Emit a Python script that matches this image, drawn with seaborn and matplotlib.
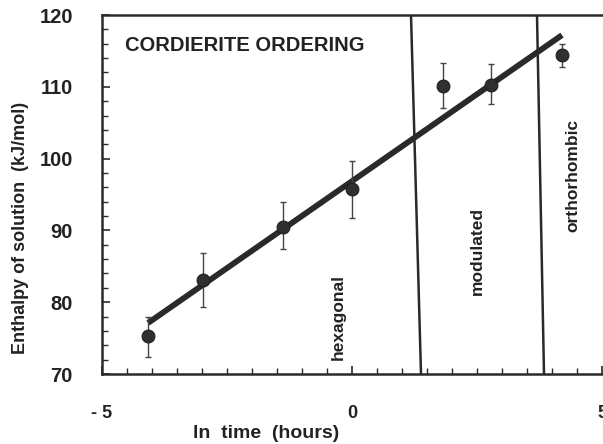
import matplotlib
matplotlib.use("Agg")
import matplotlib.pyplot as plt
from matplotlib.ticker import MultipleLocator
import seaborn as sns
import pandas as pd
import numpy as np

sns.set_theme(style="ticks")
plt.rcParams['font.family'] = ['Liberation Sans', 'DejaVu Sans']

# data
ln_time = [-4.08, -2.98, -1.38, 0.0, 1.82, 2.78, 4.20]
enthalpy = [75.3, 83.1, 90.5, 95.8, 110.1, 110.25, 114.4]
err_low = [72.4, 79.3, 87.4, 91.7, 107.0, 107.6, 112.8]
err_high = [77.9, 86.85, 94.0, 99.7, 113.3, 113.2, 116.0]

fit_x = [-4.08, 4.20]
fit_y = [77.1, 117.2]

boundary1_x = [1.18, 1.38]
boundary2_x = [3.70, 3.84]
boundary_y = [120, 70]

region_labels = ["hexagonal", "modulated", "orthorhombic"]
region_x = [-0.28, 2.5, 4.42]
region_y = [78.0, 87.1, 97.6]

title_text = "CORDIERITE ORDERING"
xticks = [-5, 0, 5]
xticklabels = ["- 5", "0", "5"]
yticks = [70, 80, 90, 100, 110, 120]

df = pd.DataFrame({"x": ln_time, "y": enthalpy})

fig = plt.figure(figsize=(6.03, 4.44), dpi=100)
ax = fig.add_axes([102/603, 1 - 374/444, 1 - 102/603, (374 - 15)/444])

dark = "#2a2a2a"
ax.plot(fit_x, fit_y, color=dark, lw=4.2, solid_capstyle="butt", zorder=3)
ax.plot(boundary1_x, boundary_y, color=dark, lw=1.8, zorder=2)
ax.plot(boundary2_x, boundary_y, color=dark, lw=1.8, zorder=2)

yerr = np.array([np.array(enthalpy) - np.array(err_low),
                 np.array(err_high) - np.array(enthalpy)])
ax.errorbar(ln_time, enthalpy, yerr=yerr, fmt="none", ecolor="#444444",
            elinewidth=1.0, capsize=2.5, capthick=1.0, zorder=4)
sns.scatterplot(data=df, x="x", y="y", ax=ax, s=85, color="#303030",
                edgecolor="#202020", linewidth=0.8, zorder=5, legend=False)

for lab, xx, yy in zip(region_labels, region_x, region_y):
    ax.text(xx, yy, lab, rotation=90, ha="center", va="center",
            fontsize=12.5, fontweight="bold", color="#222222")

ax.text(-4.54, 115.8, title_text, ha="left", va="center",
        fontsize=14.5, fontweight="bold", color="#222222")

ax.set_xlim(-5, 5.02)
ax.set_ylim(70, 120)
ax.set_xticks(xticks)
ax.set_xticklabels(xticklabels)
ax.set_yticks(yticks)
ax.xaxis.set_minor_locator(MultipleLocator(0.5))
ax.yaxis.set_minor_locator(MultipleLocator(2))

ax.tick_params(axis="both", which="both", direction="in", color=dark)
ax.tick_params(axis="both", which="major", length=6, width=1.2)
ax.tick_params(axis="both", which="minor", length=4, width=1.0)
ax.tick_params(axis="x", which="major", pad=22, labelsize=13)
ax.tick_params(axis="y", which="major", pad=21, labelsize=14.5)
for lab in ax.get_xticklabels() + ax.get_yticklabels():
    lab.set_fontweight("bold")
    lab.set_color("#222222")

ax.set_xlabel("ln  time  (hours)", fontsize=14, fontweight="bold", color="#222222")
ax.xaxis.label.set_va("center")
ax.xaxis.set_label_coords((266 - 102) / 501, -(433 - 374) / 359)
ax.set_ylabel("Enthalpy of solution  (kJ/mol)", fontsize=13, fontweight="bold",
              color="#222222")
ax.yaxis.label.set_va("center")
ax.yaxis.set_label_coords(-(102 - 21) / 501, 1 - (228 - 15) / 359)

for side in ["left", "bottom", "top"]:
    ax.spines[side].set_linewidth(1.8)
    ax.spines[side].set_color(dark)
ax.spines["right"].set_visible(False)

fig.savefig("out.png", dpi=100)
